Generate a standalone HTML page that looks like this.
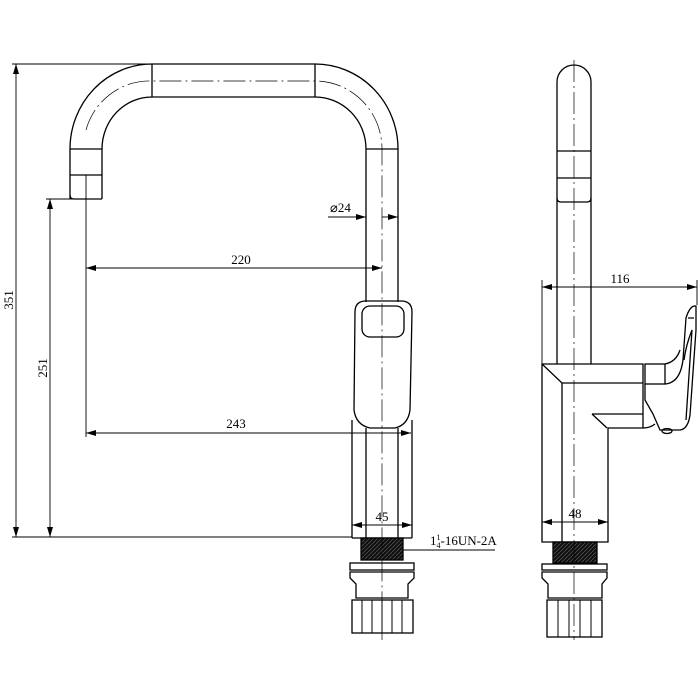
<!DOCTYPE html>
<html><head><meta charset="utf-8"><style>
html,body{margin:0;padding:0;background:#fff}
svg{display:block}
text{font-family:"Liberation Serif",serif;fill:#000}
</style></head><body>
<svg width="700" height="700" viewBox="0 0 700 700" xmlns="http://www.w3.org/2000/svg">
<defs>
<marker id="a" viewBox="0 0 10 6" refX="10" refY="3" markerWidth="10" markerHeight="6" orient="auto-start-reverse" markerUnits="userSpaceOnUse"><path d="M0,0 L10,3 L0,6 z" fill="#000"/></marker>
<pattern id="th" width="4" height="4" patternUnits="userSpaceOnUse"><rect width="4" height="4" fill="#111"/><path d="M0,4 L4,0" stroke="#666" stroke-width="0.6"/></pattern>
</defs>
<g fill="none" stroke="#000" stroke-width="1.3">
<!-- FRONT spout -->
<path d="M70,199 L70,149 A82,85 0 0 1 152,64 L315,64 A83,85 0 0 1 398,149 L398,302"/>
<path d="M102,199 L102,149 A50,52 0 0 1 152,97 L315,97 A51,52 0 0 1 366,149 L366,302"/>
<line x1="152" y1="64" x2="152" y2="97"/><line x1="315" y1="64" x2="315" y2="97"/>
<line x1="70" y1="149" x2="102" y2="149"/><line x1="70" y1="175" x2="102" y2="175"/>
<line x1="366" y1="149" x2="398" y2="149"/>
<path d="M70,195 Q70,199 74,199 L102,199"/>
<!-- handle body -->
<path d="M355,312 Q355,301 366,301 L401,301 Q412,301 412,312 L410,410 Q408,425 395,428 L370,428 Q356,425 354,410 Z"/>
<rect x="362" y="306" width="42" height="31" rx="8"/>
<path d="M352,538 L352,420 M412,538 L412,420 M352,538 L412,538"/>
<line x1="366" y1="428" x2="366" y2="538"/><line x1="398" y1="428" x2="398" y2="538"/>
<!-- front base -->
<rect x="361" y="538" width="42" height="22" fill="url(#th)"/>
<rect x="350" y="563" width="64" height="7"/>
<path d="M350,572 L414,572 L414,578 L408,584 L408,598 L356,598 L356,584 L350,578 Z"/>
<rect x="352" y="600" width="61" height="33"/>
<path d="M362,600V633 M372,600V633 M382,600V633 M392,600V633 M402,600V633" stroke-width="1"/>
<!-- SIDE view -->
<path d="M557,202 L557,82 A17,17 0 0 1 591,82 L591,364"/>
<path d="M557,202 L557,364"/>
<line x1="557" y1="151" x2="591" y2="151"/><line x1="557" y1="178" x2="591" y2="178"/>
<path d="M557,198 Q557,202 561,202 L587,202 Q591,202 591,198"/>
<path d="M542,542 L542,364 L643,364 L643,428 L608,428 L608,542 Z"/>
<path d="M542,364 L562,383 L643,383 M562,383 L562,542"/>
<path d="M592,414 L643,414 M592,414 L607,428"/>
<rect x="645" y="364" width="20" height="20"/>
<path d="M665,384 Q680,383 683,360 L686,318 Q690,305 696,306 L696,330 L690,415 Q688,429 680,430 L660,430 L653,414 L645,400 L645,384"/>
<path d="M665,364 Q676,362 680,350"/>
<path d="M688,318 L694,318 M684,360 Q686,345 692,330 L686,420"/>
<path d="M643,428 Q650,428 655,424"/>
<ellipse cx="667" cy="431" rx="5" ry="2.5"/>
<rect x="553" y="542" width="44" height="21" fill="url(#th)"/>
<rect x="542" y="564" width="65" height="6"/>
<path d="M542,572 L607,572 L607,578 L602,584 L602,598 L548,598 L548,584 L542,578 Z"/>
<rect x="547" y="600" width="55" height="37"/>
<path d="M558,600V637 M569,600V637 M580,600V637 M591,600V637" stroke-width="1"/>
</g>
<!-- center lines -->
<g stroke="#000" stroke-width="0.7" fill="none" stroke-dasharray="22,4,2,4">
<path d="M86,130 A66,67 0 0 1 152,81 L315,81 A67,68 0 0 1 382,149 L382,640"/>
<line x1="574" y1="60" x2="574" y2="640"/>
</g>
<!-- dimension lines -->
<g stroke="#000" stroke-width="0.9" fill="none">
<line x1="12" y1="64" x2="152" y2="64"/>
<line x1="12" y1="537" x2="352" y2="537"/>
<line x1="16" y1="64" x2="16" y2="537" marker-start="url(#a)" marker-end="url(#a)"/>
<line x1="46" y1="199" x2="102" y2="199"/>
<line x1="50" y1="199" x2="50" y2="537" marker-start="url(#a)" marker-end="url(#a)"/>
<line x1="86" y1="175" x2="86" y2="437"/>
<line x1="86" y1="268" x2="382" y2="268" marker-start="url(#a)" marker-end="url(#a)"/>
<line x1="86" y1="433" x2="411" y2="433" marker-start="url(#a)" marker-end="url(#a)"/>
<line x1="328" y1="217" x2="366" y2="217" marker-end="url(#a)"/>
<line x1="398" y1="217" x2="382" y2="217" marker-start="url(#a)"/>
<line x1="352" y1="525" x2="412" y2="525" marker-start="url(#a)" marker-end="url(#a)"/>
<line x1="403" y1="550" x2="495" y2="550"/>
<line x1="542" y1="280" x2="542" y2="364"/>
<line x1="697" y1="280" x2="697" y2="305"/>
<line x1="542" y1="287" x2="697" y2="287" marker-start="url(#a)" marker-end="url(#a)"/>
<line x1="542" y1="522" x2="608" y2="522" marker-start="url(#a)" marker-end="url(#a)"/>
</g>
<g font-size="13">
<text x="10" y="300" transform="rotate(-90 10 300)" text-anchor="middle" dominant-baseline="middle">351</text>
<text x="44" y="368" transform="rotate(-90 44 368)" text-anchor="middle" dominant-baseline="middle">251</text>
<text x="241" y="264" text-anchor="middle">220</text>
<text x="236" y="428" text-anchor="middle">243</text>
<text x="330" y="212">⌀24</text>
<text x="382" y="521" text-anchor="middle">45</text>
<text x="620" y="283" text-anchor="middle">116</text>
<text x="575" y="518" text-anchor="middle">48</text>
<text x="430" y="545">1<tspan font-size="8" dy="-5">1</tspan><tspan font-size="8" dx="-4" dy="8">4</tspan><tspan dy="-3">-16UN-2A</tspan></text>
</g>
</svg>
</body></html>
